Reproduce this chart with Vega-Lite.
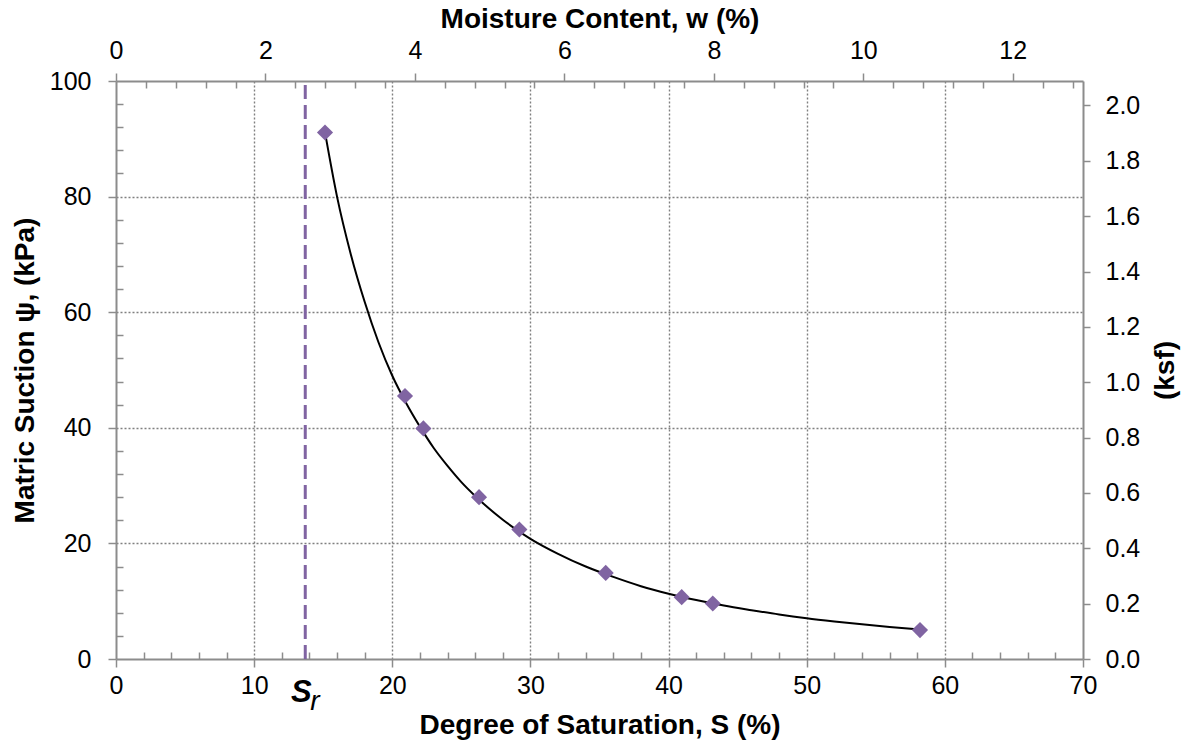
{
  "$schema": "https://vega.github.io/schema/vega-lite/v6.json",
  "width": 967,
  "height": 578,
  "autosize": "none",
  "padding": {"left": 116, "top": 81, "right": 106, "bottom": 91},
  "config": {
    "view": {"stroke": null},
    "font": "Liberation Sans",
    "axis": {
      "labelFont": "Liberation Sans",
      "titleFont": "Liberation Sans",
      "labelColor": "#000000",
      "titleColor": "#000000",
      "labelFontSize": 25,
      "titleFontSize": 28,
      "titleFontWeight": "bold",
      "domainColor": "#8c8c8c",
      "domainWidth": 2,
      "tickColor": "#8c8c8c",
      "tickWidth": 1.5,
      "labelOverlap": false,
      "labelBound": false,
      "labelFlush": false
    }
  },
  "layer": [
    {
      "encoding": {
        "x": {
          "field": "S",
          "type": "quantitative",
          "scale": {"domain": [0, 70], "nice": false, "zero": false},
          "axis": {
            "orient": "bottom",
            "title": "Degree of Saturation, S (%)",
            "values": [0, 2, 4, 6, 8, 10, 12, 14, 16, 18, 20, 22, 24, 26, 28, 30, 32, 34, 36, 38, 40, 42, 44, 46, 48, 50, 52, 54, 56, 58, 60, 62, 64, 66, 68, 70],
            "labelExpr": "datum.value % 10 === 0 ? datum.label : ''",
            "tickSize": {"condition": {"test": "datum.value % 10 === 0", "value": 8}, "value": -7},
            "labelPadding": 6,
            "titlePadding": 13,
            "grid": true,
            "gridColor": "#808080",
            "gridDash": [2, 2],
            "gridWidth": 1.4,
            "gridOpacity": {"condition": {"test": "datum.value % 10 === 0 && datum.value > 0 && datum.value < 70", "value": 1}, "value": 0}
          }
        },
        "y": {
          "field": "psi",
          "type": "quantitative",
          "scale": {"domain": [0, 100], "nice": false, "zero": false},
          "axis": {
            "orient": "left",
            "title": "Matric Suction ψ, (kPa)",
            "values": [0, 4, 8, 12, 16, 20, 24, 28, 32, 36, 40, 44, 48, 52, 56, 60, 64, 68, 72, 76, 80, 84, 88, 92, 96, 100],
            "labelExpr": "datum.value % 20 === 0 ? datum.label : ''",
            "tickSize": {"condition": {"test": "datum.value % 20 === 0", "value": 8}, "value": -7},
            "labelPadding": 17,
            "titlePadding": 10,
            "grid": true,
            "gridColor": "#808080",
            "gridDash": [2, 2],
            "gridWidth": 1.4,
            "gridOpacity": {"condition": {"test": "datum.value % 20 === 0 && datum.value > 0 && datum.value < 100", "value": 1}, "value": 0}
          }
        }
      },
      "layer": [
        {
          "data": {"values": [{"S": 13.7, "psi": 0, "psi2": 100}]},
          "mark": {"type": "rule", "stroke": "#8064A2", "strokeWidth": 3, "strokeDash": [14, 6]},
          "encoding": {"y2": {"field": "psi2"}}
        },
        {
          "data": {"values": [
            {"S": 15.13, "psi": 91.1}, {"S": 16, "psi": 80.0}, {"S": 17, "psi": 70.0}, {"S": 18, "psi": 61.8},
            {"S": 19, "psi": 54.8}, {"S": 20, "psi": 49.0}, {"S": 21, "psi": 44.3}, {"S": 22, "psi": 40.2},
            {"S": 23, "psi": 36.5}, {"S": 24, "psi": 33.4}, {"S": 25, "psi": 30.6}, {"S": 26, "psi": 28.2},
            {"S": 28, "psi": 24.1}, {"S": 30, "psi": 20.8}, {"S": 32, "psi": 18.2}, {"S": 34, "psi": 16.0},
            {"S": 36, "psi": 14.2}, {"S": 38, "psi": 12.6}, {"S": 40, "psi": 11.3}, {"S": 42, "psi": 10.2},
            {"S": 44, "psi": 9.25}, {"S": 46, "psi": 8.45}, {"S": 48, "psi": 7.7}, {"S": 50, "psi": 7.05},
            {"S": 52, "psi": 6.5}, {"S": 54, "psi": 6.0}, {"S": 56, "psi": 5.55}, {"S": 58.2, "psi": 5.1}
          ]},
          "mark": {"type": "line", "color": "#000000", "strokeWidth": 2, "interpolate": "monotone"},
          "encoding": {}
        },
        {
          "data": {"values": [
            {"S": 15.13, "psi": 91.1}, {"S": 20.92, "psi": 45.5}, {"S": 22.25, "psi": 39.9},
            {"S": 26.28, "psi": 28.0}, {"S": 29.2, "psi": 22.4}, {"S": 35.45, "psi": 14.9},
            {"S": 40.95, "psi": 10.7}, {"S": 43.2, "psi": 9.6}, {"S": 58.2, "psi": 5.0}
          ]},
          "mark": {"type": "point", "shape": "diamond", "filled": true, "color": "#8064A2", "opacity": 1, "size": 260},
          "encoding": {}
        },
        {
          "data": {"values": [{"S": 13.7, "psi": 0, "t": "S"}]},
          "mark": {"type": "text", "font": "Liberation Sans", "fontSize": 31, "fontWeight": "bold", "fontStyle": "italic", "color": "#000000", "align": "center", "baseline": "alphabetic", "dy": 43, "dx": -4},
          "encoding": {"text": {"field": "t"}}
        },
        {
          "data": {"values": [{"S": 13.7, "psi": 0, "t": "r"}]},
          "mark": {"type": "text", "font": "Liberation Sans", "fontSize": 28, "fontWeight": "normal", "fontStyle": "italic", "color": "#000000", "align": "left", "baseline": "alphabetic", "dy": 51, "dx": 5},
          "encoding": {"text": {"field": "t"}}
        }
      ]
    },
    {
      "data": {"values": [{"w": 0, "ksf": 0}]},
      "mark": {"type": "point", "opacity": 0},
      "encoding": {
        "x": {
          "field": "w",
          "type": "quantitative",
          "scale": {"domain": [0, 12.94], "nice": false, "zero": false},
          "axis": {
            "orient": "top",
            "title": "Moisture Content, w (%)",
            "values": [0, 0.4, 0.8, 1.2, 1.6, 2, 2.4, 2.8, 3.2, 3.6, 4, 4.4, 4.8, 5.2, 5.6, 6, 6.4, 6.8, 7.2, 7.6, 8, 8.4, 8.8, 9.2, 9.6, 10, 10.4, 10.8, 11.2, 11.6, 12, 12.4, 12.8],
            "labelExpr": "abs(datum.value / 2 - round(datum.value / 2)) < 0.001 ? format(datum.value, 'd') : ''",
            "tickSize": {"condition": {"test": "abs(datum.value / 2 - round(datum.value / 2)) < 0.001", "value": 8}, "value": -7},
            "labelPadding": 10,
            "titlePadding": 5,
            "grid": false
          }
        },
        "y": {
          "field": "ksf",
          "type": "quantitative",
          "scale": {"domain": [0, 2.0885], "nice": false, "zero": false},
          "axis": {
            "orient": "right",
            "title": "(ksf)",
            "titleAngle": 270,
            "values": [0, 0.2, 0.4, 0.6, 0.8, 1.0, 1.2, 1.4, 1.6, 1.8, 2.0],
            "format": ".1f",
            "tickSize": 7,
            "labelPadding": 15,
            "titlePadding": 40,
            "grid": false
          }
        }
      }
    }
  ],
  "resolve": {"scale": {"x": "independent", "y": "independent"}}
}
